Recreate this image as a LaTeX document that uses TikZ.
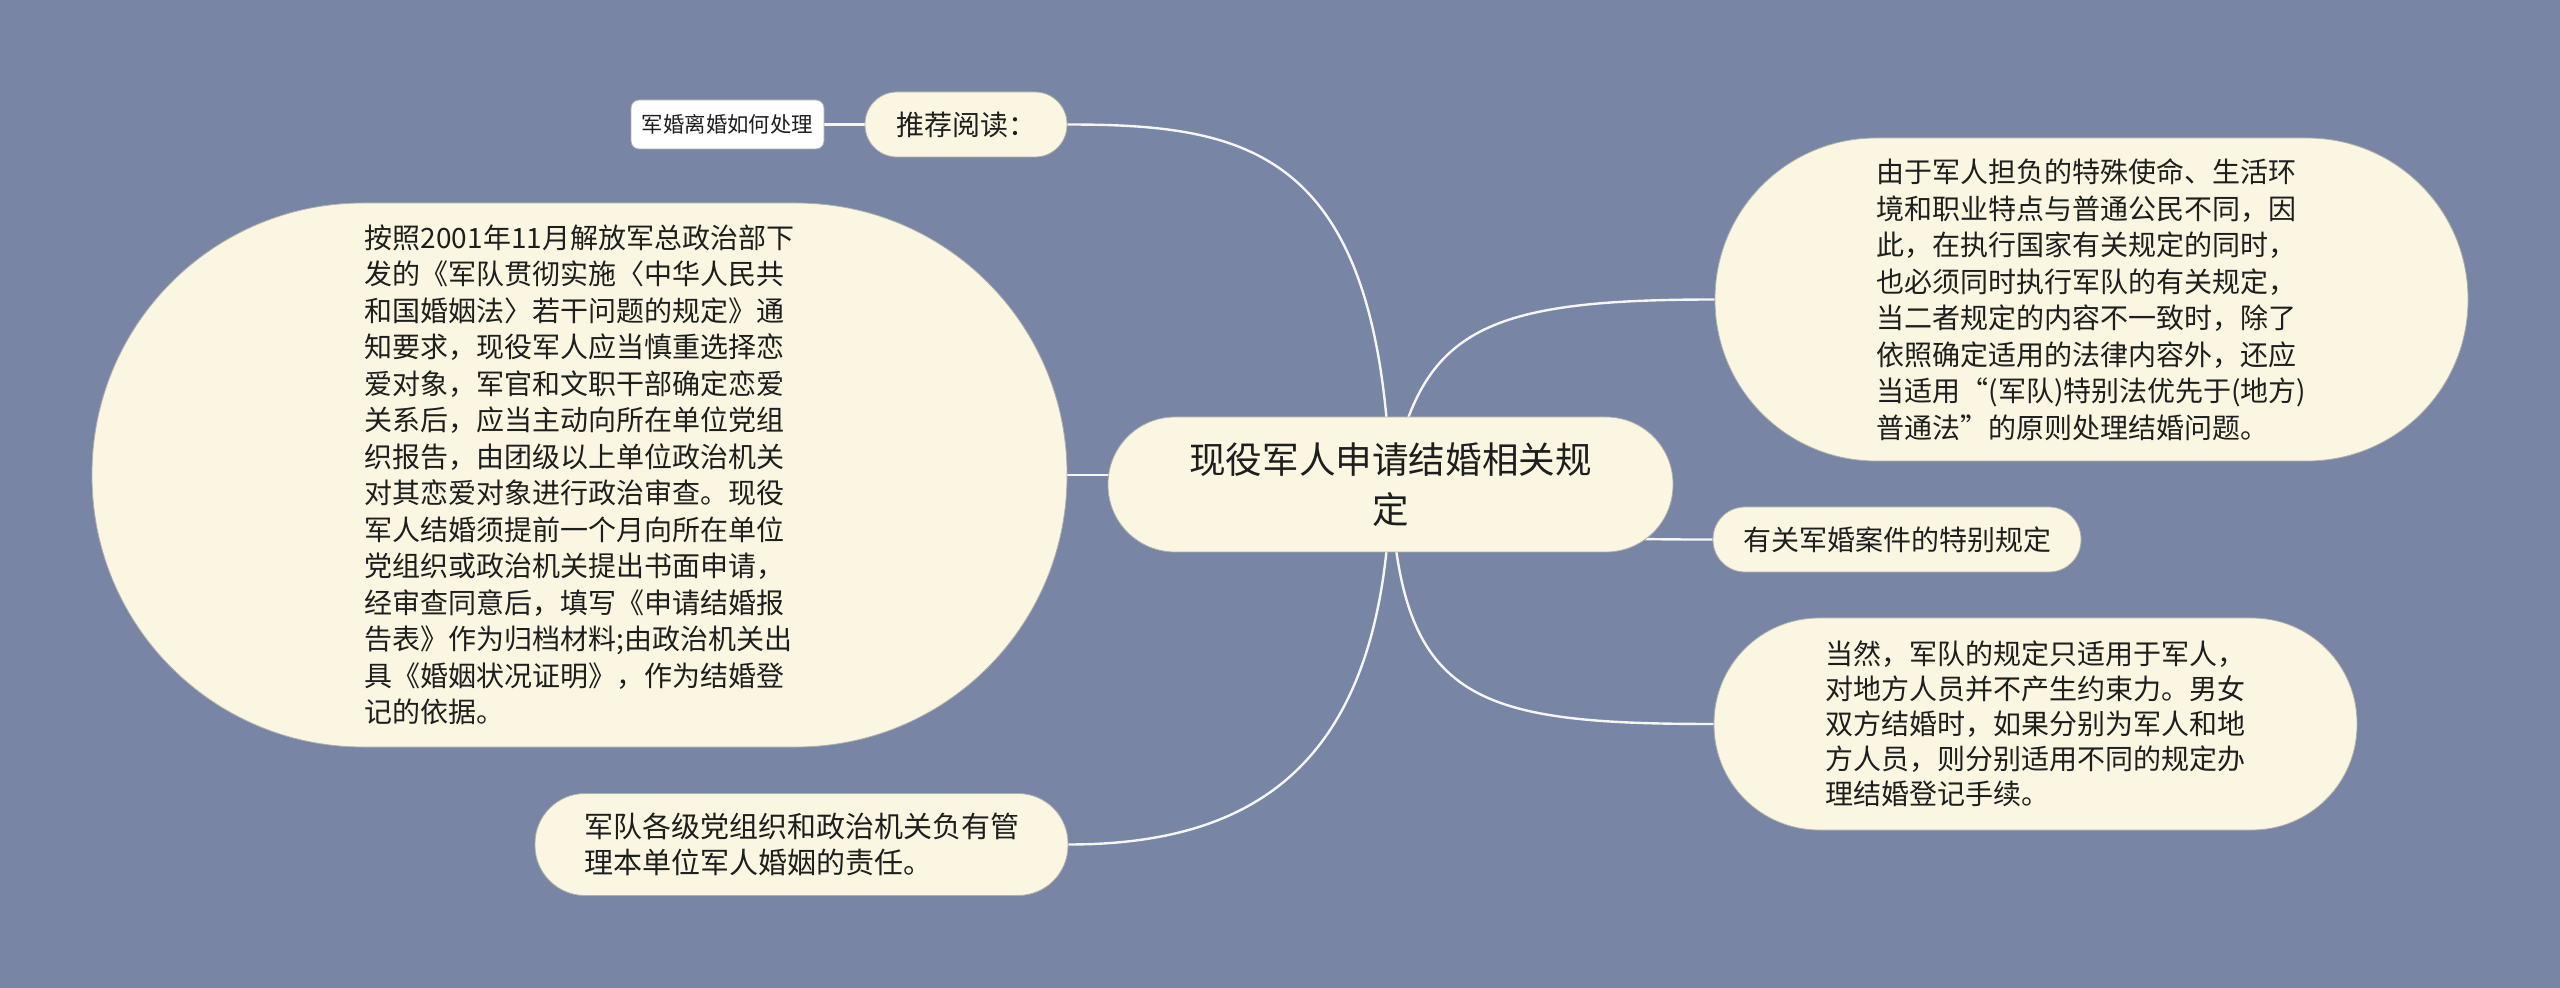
\documentclass[tikz,border=0pt]{standalone}
\usepackage{fontspec}
\setmainfont{Noto Sans CJK SC}
\definecolor{bgc}{RGB}{120,133,165}
\definecolor{nodec}{RGB}{250,246,226}
\definecolor{edgec}{RGB}{175,175,170}
\definecolor{linec}{RGB}{246,246,246}
\definecolor{txtc}{RGB}{30,30,30}
\pgfdeclarelayer{bg}
\pgfsetlayers{bg,main}
\begin{document}
\begin{tikzpicture}[x=0.5pt,y=-0.5pt,
  topic/.style={fill=nodec, draw=edgec, line width=0.4pt, inner sep=0pt, text=txtc, align=left},
  body/.style={topic, font=\fontsize{14pt}{18.25pt}\selectfont},
  link/.style={draw=linec, line width=1.2pt}]
\useasboundingbox (0,0) rectangle (2560,988);

% central topic
\node[topic, align=center, rounded corners=33.5pt, minimum width=282.5pt, minimum height=67.5pt,
      font=\fontsize{18.3pt}{25pt}\selectfont] (c) at (1390.5,484.5) {现役军人申请结婚相关规\\定};

% left side
\node[body, rounded corners=16pt, minimum width=101pt, minimum height=32.5pt] (pt) at (966,124.5) {推荐阅读：};
\node[topic, fill=white, rounded corners=4pt, minimum width=96.5pt, minimum height=24.5pt,
      font=\fontsize{10.7pt}{13pt}\selectfont] (wn) at (727.5,124.5) {军婚离婚如何处理};

\node[body, rounded corners=135.5pt, minimum width=487.5pt, minimum height=272pt] (big) at (579.5,475) {按照2001年11月解放军总政治部下\\
发的《军队贯彻实施〈中华人民共\\
和国婚姻法〉若干问题的规定》通\\
知要求，现役军人应当慎重选择恋\\
爱对象，军官和文职干部确定恋爱\\
关系后，应当主动向所在单位党组\\
织报告，由团级以上单位政治机关\\
对其恋爱对象进行政治审查。现役\\
军人结婚须提前一个月向所在单位\\
党组织或政治机关提出书面申请，\\
经审查同意后，填写《申请结婚报\\
告表》作为归档材料;由政治机关出\\
具《婚姻状况证明》，作为结婚登\\
记的依据。};

\node[body, font=\fontsize{14.5pt}{18pt}\selectfont, rounded corners=25pt, minimum width=266.5pt, minimum height=51pt] (bl) at (801.5,844.5) {军队各级党组织和政治机关负有管\\理本单位军人婚姻的责任。};

% right side
\node[body, rounded corners=80.5pt, minimum width=376.5pt, minimum height=161.5pt] (rt) at (2091.5,299.5) {由于军人担负的特殊使命、生活环\\
境和职业特点与普通公民不同，因\\
此，在执行国家有关规定的同时，\\
也必须同时执行军队的有关规定，\\
当二者规定的内容不一致时，除了\\
依照确定适用的法律内容外，还应\\
当适用“(军队)特别法优先于(地方)\\
普通法”的原则处理结婚问题。};

\node[body, rounded corners=16pt, minimum width=184pt, minimum height=32.5pt] (mr) at (1897,539.5) {有关军婚案件的特别规定};

\node[body, font=\fontsize{14pt}{17.5pt}\selectfont, rounded corners=52.5pt, minimum width=321.5pt, minimum height=106pt] (rb) at (2035.5,724) {当然，军队的规定只适用于军人，\\
对地方人员并不产生约束力。男女\\
双方结婚时，如果分别为军人和地\\
方人员，则分别适用不同的规定办\\
理结婚登记手续。};

\begin{pgfonlayer}{bg}
\fill[bgc] (0,0) rectangle (2560,988);
\draw[link] (c.center) .. controls (1380,150) and (1250,124.5) .. (pt.east);
\draw[link] (c.center) .. controls (1420,330) and (1480,299.5) .. (rt.west);
\draw[link] (c.center) .. controls (1500,539.5) and (1600,539.5) .. (mr.west);
\draw[link] (c.center) .. controls (1400,700) and (1470,724) .. (rb.west);
\draw[link] (c.center) .. controls (1385,760) and (1260,844.5) .. (bl.east);
\draw[link] (big.east) -- (big.east -| c.center);
\draw[link] (wn.east) -- (pt.west);
\end{pgfonlayer}
\end{tikzpicture}
\end{document}
